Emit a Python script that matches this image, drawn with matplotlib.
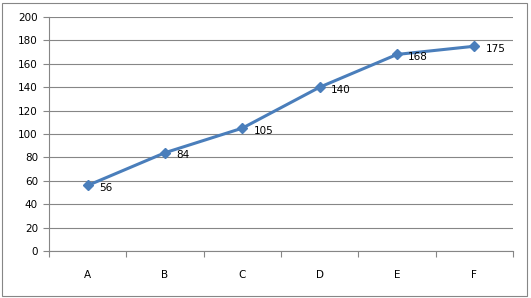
import matplotlib
matplotlib.use('Agg')
import matplotlib.pyplot as plt
from matplotlib.patches import Rectangle

# data
categories = ['A', 'B', 'C', 'D', 'E', 'F']
values = [56, 84, 105, 140, 168, 175]
yticks = [0, 20, 40, 60, 80, 100, 120, 140, 160, 180, 200]

W, H = 531, 298
fig = plt.figure(figsize=(W / 100, H / 100), dpi=100)
fig.patch.set_facecolor('white')

# outer chart border
fig.patches.append(Rectangle((2 / W, 2 / H), 525 / W, 293 / H, transform=fig.transFigure,
                             fill=False, edgecolor='#868686', linewidth=0.8))

left, right, top, bottom = 49, 513, 17, 251
ax = fig.add_axes([left / W, 1 - bottom / H, (right - left) / W, (bottom - top) / H])

x = list(range(len(categories)))
ax.plot(x, values, color='#4A7EBB', linewidth=2.2, marker='D', markersize=5.5,
        markerfacecolor='#4A7EBB', markeredgecolor='#4A7EBB', zorder=3)
for xi, v in zip(x, values):
    ax.annotate(str(v), (xi, v), xytext=(8, -2), textcoords='offset points',
                ha='left', va='center', fontsize=7.5, color='black')

ax.set_xlim(-0.5, len(categories) - 0.5)
ax.set_ylim(0, 200)
ax.set_yticks(yticks)
ax.set_yticklabels([str(t) for t in yticks], fontsize=7.5)
ax.set_xticks(x)
ax.set_xticklabels(categories, fontsize=7.5)
ax.set_xticks([i - 0.5 for i in range(len(categories) + 1)], minor=True)

ax.grid(axis='y', color='#868686', linewidth=0.8)
ax.set_axisbelow(True)
for s in ['top', 'right']:
    ax.spines[s].set_visible(False)
ax.spines['left'].set_color('#868686')
ax.spines['bottom'].set_color('#868686')
ax.spines['left'].set_linewidth(0.8)
ax.spines['bottom'].set_linewidth(0.8)
ax.tick_params(axis='y', length=4, color='#868686', width=0.8, pad=4)
ax.tick_params(axis='x', which='major', length=0, pad=14)
ax.tick_params(axis='x', which='minor', length=4, color='#868686', width=0.8)

fig.savefig('out.png', dpi=100)
